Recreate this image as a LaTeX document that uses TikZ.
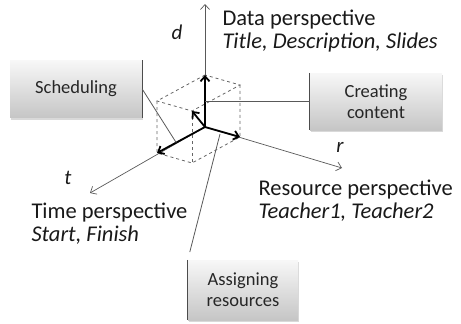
\documentclass[tikz,border=0pt]{standalone}
\usepackage{fontspec}
\setmainfont{Carlito}
\usetikzlibrary{calc,shadows,arrows.meta}

\tikzset{
  taskbox/.style={minimum width=132pt, minimum height=57pt, inner sep=2pt,
    top color=gray!6, bottom color=gray!45,
    drop shadow={shadow xshift=1pt,shadow yshift=-2pt,opacity=0.3},
    align=center, font=\fontsize{18.5}{21}\selectfont, text=black!85},
  edgeline/.style={black!70, line width=1pt},
  axis/.style={black!65, line width=0.7pt, -{Straight Barb[length=5pt,width=9pt]}},
  unitvec/.style={line width=1.8pt, -{Straight Barb[length=5pt,width=9pt]}},
  cubeedge/.style={dashed, black!60, line width=0.8pt},
  callout/.style={black!65, line width=0.8pt},
  axlabel/.style={font=\fontsize{21}{22}\selectfont\itshape, text=black!90},
  persp/.style={anchor=west, align=left, font=\fontsize{22.5}{23}\selectfont, text=black!90}
}

\begin{document}
\begin{tikzpicture}[x=1pt,y=-1pt]
\useasboundingbox (0,0) rectangle (461,324);

% axes and the unit cube
\coordinate (O) at (205,127);
\coordinate (T) at (157,153);
\coordinate (R) at (240,137);
\coordinate (D) at (205,75);
\coordinate (A) at ($(T)+(D)-(O)$);
\coordinate (C) at ($(R)+(D)-(O)$);
\coordinate (E) at ($(T)+(R)+(D)-2*(O)$);
\coordinate (F) at ($(T)+(R)-(O)$);

\draw[cubeedge] (D)--(A)--(E)--(C)--cycle;
\draw[cubeedge] (A)--(T)--(F)--(R)--(C);
\draw[cubeedge] (E)--(F);

\draw[axis] (O)--(205,4) coordinate (dend);
\draw[axis] (O)--(90,193) coordinate (tend);
\draw[axis] (O)--(342,168) coordinate (rend);
\node[axlabel] (dlab) at (177,32) {d};
\node[axlabel] (tlab) at (68,178) {t};
\node[axlabel] (rlab) at (340,147) {r};

\draw[unitvec] (O)--(D);
\draw[unitvec] (O)--(T);
\draw[unitvec] (O)--(R);
\draw[unitvec] (O)--(E);

% perspectives
\node[persp] (data) at (219,31) {Data perspective\\\textit{Title, Description, Slides}};
\node[persp] (time) at (28,224) {Time perspective\\\textit{Start, Finish}};
\node[persp] (res) at (255,201) {Resource perspective\\\textit{Teacher1, Teacher2}};

% activities
\node[taskbox] (sch) at (76,89) {Scheduling};
\node[taskbox] (cc) at (376,101.5) {Creating\\content};
\node[taskbox, minimum width=110pt, minimum height=60pt] (asg) at (243,290) {Assigning\\resources};

\draw[edgeline] (sch.north east)--(sch.south east);
\draw[edgeline] (cc.north west)--(cc.south west);
\draw[edgeline] (asg.north west)--(asg.south west);

\draw[callout] (sch.east)--($(O)!0.6!(T)$);
\draw[callout] (cc.west)--(cc.west -| O);
\draw[callout, shorten <=8pt] (asg.north west)--(220,134);
\end{tikzpicture}
\end{document}
